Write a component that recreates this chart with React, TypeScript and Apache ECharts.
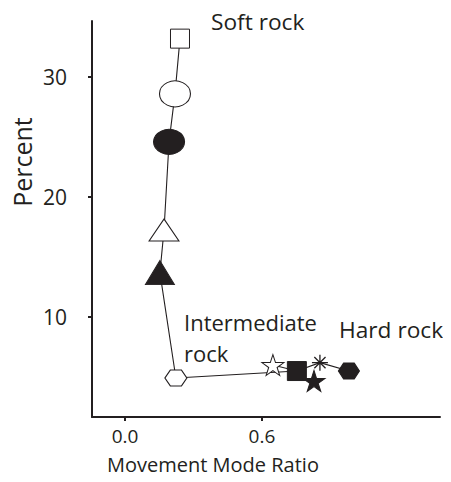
import React, { useEffect, useRef } from "react";
import * as echarts from "echarts";

// Data
const markerNames = [
  "Open square",
  "Open circle",
  "Filled circle",
  "Open triangle",
  "Filled triangle",
  "Open hexagon",
  "Open star",
  "Filled square",
  "Asterisk",
  "Filled star",
  "Filled hexagon",
];
const movementModeRatio = [0.241, 0.219, 0.193, 0.171, 0.153, 0.223, 0.648, 0.753, 0.854, 0.828, 0.981];
const percentValues = [33.2, 28.6, 24.6, 17.25, 13.7, 4.92, 6.0, 5.5, 6.2, 4.67, 5.5];
const mainPathOrder = [0, 1, 2, 3, 4, 5, 7, 8, 10];
const sidePathOrder = [6, 7];
const xTickValues = [0, 0.6];
const yTickValues = [10, 20, 30];
const rockLabels = ["Soft rock", "Intermediate\nrock", "Hard rock"];

const HEX = "path://M-1,0 L-0.5,-0.866 L0.5,-0.866 L1,0 L0.5,0.866 L-0.5,0.866 Z";
const STAR =
  "path://M0,-1 L0.2245,-0.309 L0.951,-0.309 L0.363,0.118 L0.588,0.809 L0,0.382 L-0.588,0.809 L-0.363,0.118 L-0.951,-0.309 L-0.2245,-0.309 Z";
const ASTERISK = "path://M0,-1 L0,1 M-1,0 L1,0 M-0.7,-0.7 L0.7,0.7 M-0.7,0.7 L0.7,-0.7";

const INK = "#231f20";

const markerStyles: any[] = [
  { symbol: "rect", size: [19, 19], fill: "#fff" },
  { symbol: "circle", size: [31, 26], fill: "#fff" },
  { symbol: "circle", size: [31, 25], fill: INK },
  { symbol: "triangle", size: [30, 22], fill: "#fff" },
  { symbol: "triangle", size: [29, 24], fill: INK },
  { symbol: HEX, size: [22, 16], fill: "#fff" },
  { symbol: STAR, size: [22, 21], fill: "#fff" },
  { symbol: "rect", size: [19, 19], fill: INK },
  { symbol: ASTERISK, size: [16, 16], fill: "none" },
  { symbol: STAR, size: [22, 21], fill: INK },
  { symbol: HEX, size: [21, 16], fill: INK },
];

const FONT = "'Open Sans', 'Noto Sans', sans-serif";

export default function App() {
  const ref = useRef<HTMLDivElement>(null);

  useEffect(() => {
    if (!ref.current) return;
    const chart = echarts.init(ref.current, undefined, { renderer: "svg" });

    const pointData = markerNames.map((name, i) => ({
      name,
      value: [movementModeRatio[i], percentValues[i]],
      symbol: markerStyles[i].symbol,
      symbolSize: markerStyles[i].size,
      itemStyle: {
        color: markerStyles[i].fill,
        borderColor: INK,
        borderWidth: i === 8 ? 1.3 : 1,
        opacity: 1,
      },
    }));

    const pathData = (order: number[]) => order.map((i) => [movementModeRatio[i], percentValues[i]]);

    const txt = (text: string, x: number, y: number, fontSize: number, extra: any = {}) => {
      const { align, lineHeight, ...rest } = extra;
      return {
        type: "text",
        x,
        y,
        ...rest,
        style: {
          text,
          x: 0,
          y: 0,
          fontSize,
          lineHeight: lineHeight || undefined,
          fontFamily: FONT,
          fill: INK,
          align: align || "left",
          verticalAlign: "middle",
        },
      };
    };

    chart.setOption({
      animation: false,
      backgroundColor: "#fff",
      grid: { left: 92, right: 11, top: 21, bottom: 65 },
      xAxis: {
        type: "value",
        min: -0.1445,
        max: 1.38,
        splitLine: { show: false },
        axisLine: { show: true, onZero: false, lineStyle: { color: INK, width: 2 } },
        axisTick: { show: true, customValues: xTickValues, length: 4, lineStyle: { color: INK, width: 2 } },
        axisLabel: {
          customValues: xTickValues,
          formatter: (v: number) => v.toFixed(1),
          color: INK,
          fontSize: 19,
          fontFamily: FONT,
          margin: 9,
        },
      },
      yAxis: {
        type: "value",
        min: 1.67,
        max: 34.67,
        splitLine: { show: false },
        axisLine: { show: true, onZero: false, lineStyle: { color: INK, width: 2 } },
        axisTick: { show: true, customValues: yTickValues, length: 4, lineStyle: { color: INK, width: 2 } },
        axisLabel: {
          customValues: yTickValues,
          color: INK,
          fontSize: 21,
          fontFamily: FONT,
          margin: 25,
        },
      },
      series: [
        {
          type: "line",
          data: pathData(mainPathOrder),
          showSymbol: false,
          symbol: "none",
          lineStyle: { color: INK, width: 1.1 },
          z: 1,
        },
        {
          type: "line",
          data: pathData(sidePathOrder),
          showSymbol: false,
          symbol: "none",
          lineStyle: { color: INK, width: 1.1 },
          z: 1,
        },
        {
          type: "scatter",
          data: pointData,
          z: 3,
        },
      ],
      graphic: [
        txt("Percent", 22, 162, 25, { rotation: Math.PI / 2, align: "center" }),
        txt("Movement Mode Ratio", 107, 464, 20),
        txt(rockLabels[0], 211, 21, 22.7),
        txt(rockLabels[1], 184, 337, 22, { lineHeight: 31 }),
        txt(rockLabels[2], 339, 329, 22.7),
      ],
    });

    return () => chart.dispose();
  }, []);

  return <div ref={ref} style={{ width: 451, height: 482, margin: -8 }} />;
}
